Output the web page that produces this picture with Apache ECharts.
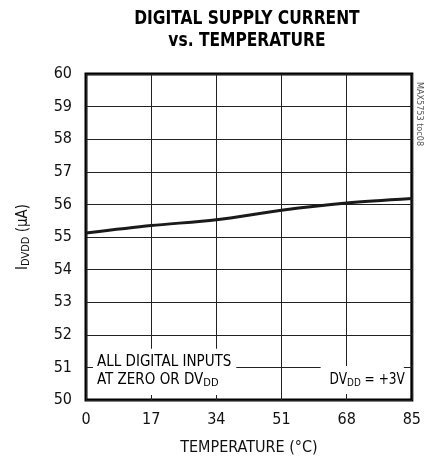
<!DOCTYPE html>
<html>
<head>
<meta charset="utf-8">
<script src="https://cdn.jsdelivr.net/npm/echarts@6/dist/echarts.min.js"></script>
<style>html,body{margin:0;padding:0;background:#fff}#c{width:424px;height:461px}</style>
</head>
<body>
<div id="c"></div>
<script>
var FONT = "'Liberation Sans Narrow','DejaVu Sans Condensed','Arial Narrow','Liberation Sans',sans-serif";
var titleLines = ['DIGITAL SUPPLY CURRENT', 'vs. TEMPERATURE'];
var temperatures = [0, 17, 34, 51, 68, 85];
var currents = [55.12, 55.35, 55.53, 55.82, 56.04, 56.18];
var xTicks = [0, 17, 34, 51, 68, 85];
var yTicks = [50, 51, 52, 53, 54, 55, 56, 57, 58, 59, 60];
var xName = 'TEMPERATURE (°C)';
var noteLeft = ['ALL DIGITAL INPUTS', 'AT ZERO OR DV', 'DD'];
var noteRight = ['DV', 'DD', ' = +3V'];
var sideNote = 'MAX5753 toc08';

var chart = echarts.init(document.getElementById('c'), null, {renderer: 'canvas'});
var sub = {fontSize: 11, fontFamily: FONT, color: '#111', lineHeight: 18, padding: [5, 0, 0, 0], verticalAlign: 'top'};
var base = {fontSize: 15, fontFamily: FONT, color: '#111', lineHeight: 18, verticalAlign: 'top'};

var option = {
  animation: false,
  grid: {left: 86, right: 11, top: 74, bottom: 59, show: true, borderColor: '#000', borderWidth: 3, backgroundColor: 'transparent'},
  xAxis: {
    type: 'value', min: xTicks[0], max: xTicks[xTicks.length - 1], interval: 17,
    axisLine: {show: false}, axisTick: {show: false},
    splitLine: {show: true, lineStyle: {color: '#222', width: 1}},
    axisLabel: {fontSize: 16, fontFamily: FONT, color: '#111', margin: 12},
    name: xName, nameLocation: 'middle', nameGap: 40,
    nameTextStyle: {fontSize: 16, fontFamily: FONT, color: '#111'}
  },
  yAxis: {
    type: 'value', min: yTicks[0], max: yTicks[yTicks.length - 1], interval: 1,
    axisLine: {show: false}, axisTick: {show: false},
    splitLine: {show: true, lineStyle: {color: '#222', width: 1}},
    axisLabel: {fontSize: 16, fontFamily: FONT, color: '#111', margin: 14},
    name: '{b|I}{s|DVDD}{b| (µA)}', nameLocation: 'middle', nameGap: 52, nameRotate: 90,
    nameTextStyle: {rich: {b: base, s: sub}}
  },
  series: [{
    type: 'line', data: temperatures.map(function (t, i) { return [t, currents[i]]; }),
    smooth: 0.3, symbol: 'none', z: 5,
    lineStyle: {color: '#1a1a1a', width: 3}
  }],
  graphic: []
};
chart.setOption(option);

function px(x, y) { return chart.convertToPixel({gridIndex: 0}, [x, y]); }
var tl = px(0, 60), br = px(85, 50);
var midX = (tl[0] + br[0]) / 2 - 2;
var titleStyle = {fontSize: 20, fontWeight: 'bold', fontFamily: FONT, fill: '#000', align: 'center', verticalAlign: 'middle'};
var g = [
  {type: 'text', x: midX, y: 19, scaleX: 0.86, style: Object.assign({text: titleLines[0]}, titleStyle)},
  {type: 'text', x: midX, y: 41, scaleX: 0.86, style: Object.assign({text: titleLines[1]}, titleStyle)}
];
// left note box
var p52 = px(0, 51.6), p50 = px(0, 50);
var boxRight = px(39.2, 50)[0];
g.push({type: 'rect', shape: {x: tl[0] + 7, y: p52[1] + 1, width: boxRight - tl[0] - 7, height: p50[1] - 5 - p52[1] - 1}, style: {fill: '#fff'}, z: 2});
g.push({type: 'text', x: tl[0] + 11, y: px(0, 51)[1] - 13, z: 3,
  style: {rich: {b: base, s: sub}, text: '{b|' + noteLeft[0] + '}\n{b|' + noteLeft[1] + '}{s|' + noteLeft[2] + '}'}});
// right note box
var r0 = px(61.2, 51.04), r1 = px(85, 50);
g.push({type: 'rect', shape: {x: r0[0], y: r0[1], width: r1[0] - 8 - r0[0], height: r1[1] - 6 - r0[1]}, style: {fill: '#fff'}, z: 2});
g.push({type: 'text', x: r0[0] + 9, y: r0[1] + 7, scaleX: 0.9, z: 3,
  style: {rich: {b: base, s: sub}, text: '{b|' + noteRight[0] + '}{s|' + noteRight[1] + '}{b|' + noteRight[2] + '}'}});
// side note
g.push({type: 'text', x: br[0] + 7, y: tl[1] + 40, rotation: -Math.PI / 2, z: 3,
  style: {text: sideNote, fontSize: 9, fontFamily: FONT, fill: '#555', align: 'center', verticalAlign: 'middle'}});
chart.setOption({graphic: g});
</script>
</body>
</html>
